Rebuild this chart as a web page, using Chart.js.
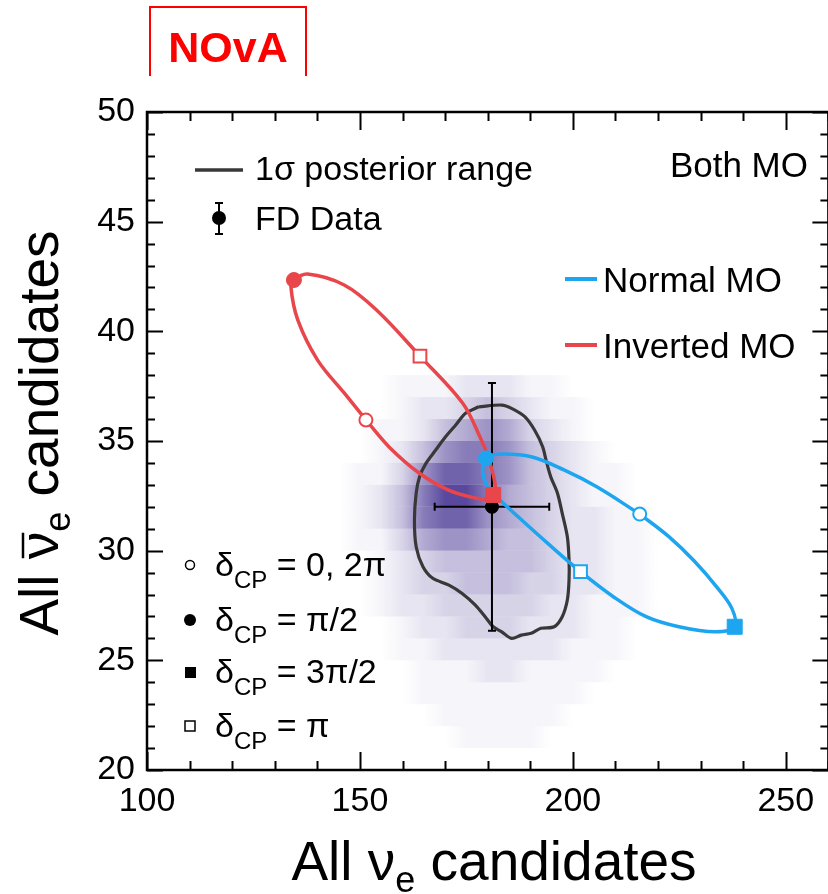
<!DOCTYPE html>
<html>
<head>
<meta charset="utf-8">
<script src="https://cdn.jsdelivr.net/npm/chart.js@4.4.1/dist/chart.umd.min.js"></script>
<style>
  html, body { margin: 0; padding: 0; background: #fff; overflow: hidden; }
  #wrap { width: 828px; height: 894px; overflow: hidden; }
  canvas { display: block; }
</style>
</head>
<body>
<div id="wrap"><canvas id="moChart" width="840" height="894"></canvas></div>
<script>
// axis ticks
const xTicks = [100, 150, 200, 250];
const yTicks = [20, 25, 30, 35, 40, 45, 50];

// FD data point and its errors
const fdPoint = [181, 32];
const fdErr = [13.45, 5.65];

// 1 sigma posterior contour
const contourX = [177.9, 183.3, 185.6, 188.7, 191.0, 192.9, 193.7, 194.8, 196.4, 197.5, 198.7, 199.1, 199.1, 198.7, 197.5, 195.6, 192.5, 190.2, 187.9, 185.6, 183.3, 181.3, 179.4, 177.1, 174.0, 170.9, 167.1, 164.8, 163.2, 162.8, 163.2, 164.0, 165.5, 167.8, 170.1, 172.5, 174.8, 177.9];
const contourY = [36.56, 36.64, 36.49, 36.11, 35.50, 34.74, 34.13, 33.37, 32.61, 31.70, 30.63, 29.57, 28.66, 27.75, 26.99, 26.53, 26.46, 26.23, 26.15, 26.00, 26.30, 26.53, 26.99, 27.52, 28.05, 28.43, 28.74, 29.27, 30.18, 31.40, 32.61, 33.37, 33.98, 34.59, 35.19, 35.73, 36.26, 36.56];

// inverted MO ellipse
const invertedX = [151.4, 146.3, 140.05, 135.4, 133.8, 134.5, 137.7, 146.3, 153.9, 164.1, 174.1, 178.2, 180.1, 181.7, 181.5, 180.1, 177.1, 170.8, 163.9, 156.9, 151.4];
const invertedY = [35.96, 37.19, 38.69, 40.52, 42.02, 42.34, 42.61, 42.11, 40.97, 38.87, 36.73, 35.18, 34.27, 33.08, 32.55, 32.35, 32.40, 32.76, 33.54, 34.72, 35.96];

// normal MO ellipse
const normalX = [215.7, 222.6, 228.5, 233.8, 237.3, 238.0, 233.4, 224.9, 217.2, 209.5, 201.8, 194.1, 187.1, 183.3, 180.6, 179.4, 178.8, 179.6, 182.5, 190.2, 197.9, 205.6, 215.7];
const normalY = [31.67, 30.63, 29.53, 28.34, 27.38, 26.53, 26.30, 26.53, 26.99, 27.90, 29.04, 30.33, 31.55, 32.23, 32.69, 33.14, 33.68, 34.21, 34.40, 34.28, 33.68, 32.91, 31.67];

// dCP markers, order: 0, pi/2, pi, 3pi/2
const invertedMarkX = [151.4, 134.5, 164.1, 181.3];
const invertedMarkY = [35.96, 42.34, 38.87, 32.54];
const normalMarkX = [215.7, 179.6, 201.8, 238.0];
const normalMarkY = [31.67, 34.21, 29.04, 26.53];

// posterior density (background), rows are 1 unit high, levels 0-9
const densityX = [145, 150, 155, 160, 165, 170, 175, 180, 185, 190, 195, 200, 205, 210, 215, 220, 225, 230];
const densityRowY = [37, 36, 35, 34, 33, 32, 31, 30, 29, 28, 27, 26, 25, 24, 23, 22, 21];
const densityLevels = [
  '000111222110000000',
  '000122343211000000',
  '001124565321000000',
  '001246776432100000',
  '011368876432110000',
  '012479975432110000',
  '012478865432211000',
  '011356654432211000',
  '001234444432211000',
  '001233444332211000',
  '001223333322111000',
  '000122333222110000',
  '000112222221110000',
  '000011122111100000',
  '000011111111000000',
  '000001111110000000',
  '000000111100000000'
];

const RED = '#e8464b';
const BLUE = '#1ea5f0';
const GREY = '#383838';
const FONT = '"Liberation Sans", Arial, Helvetica, sans-serif';

function pts(xs, ys) {
  return xs.map((v, i) => ({ x: v, y: ys[i] }));
}

const markStyle = ['circle', 'circle', 'rect', 'rect'];
const markRadius = [6.5, 7.5, 9, 10.6];
const markWidth = [2, 1, 2, 1];

function drawRich(ctx, parts, x, y, align) {
  let w = 0;
  parts.forEach(p => { ctx.font = p[1] + 'px ' + FONT; w += ctx.measureText(p[0]).width; });
  let cx = align === 'center' ? x - w / 2 : x;
  const pos = [];
  parts.forEach(p => {
    ctx.font = p[1] + 'px ' + FONT;
    ctx.fillText(p[0], cx, y + (p[2] || 0));
    const pw = ctx.measureText(p[0]).width;
    pos.push([cx, pw]);
    cx += pw;
  });
  return pos;
}

const heatmapPlugin = {
  id: 'heatmap',
  beforeDatasetsDraw(chart) {
    const { ctx, chartArea: a, scales: { x, y } } = chart;
    ctx.save();
    ctx.beginPath();
    ctx.rect(a.left, a.top, a.right - a.left, a.bottom - a.top);
    ctx.clip();
    const gx0 = x.getPixelForValue(densityX[0]);
    const gx1 = x.getPixelForValue(densityX[densityX.length - 1]);
    densityRowY.forEach((row, i) => {
      const g = ctx.createLinearGradient(gx0, 0, gx1, 0);
      densityLevels[i].split('').forEach((lv, j) => {
        const off = (x.getPixelForValue(densityX[j]) - gx0) / (gx1 - gx0);
        const alpha = 0.85 * Math.pow(Number(lv) / 9, 1.3);
        g.addColorStop(off, 'rgba(60,40,140,' + alpha.toFixed(3) + ')');
      });
      const top = y.getPixelForValue(row + 1);
      const bot = y.getPixelForValue(row);
      ctx.fillStyle = g;
      ctx.fillRect(gx0, top, gx1 - gx0, bot - top);
    });
    ctx.restore();
  },
  beforeDatasetDraw(chart, args) {
    // error bars under the FD point
    if (chart.data.datasets[args.index].label !== 'FD Data') return;
    const { ctx, scales: { x, y } } = chart;
    const px = x.getPixelForValue(fdPoint[0]), py = y.getPixelForValue(fdPoint[1]);
    const x0 = x.getPixelForValue(fdPoint[0] - fdErr[0]), x1 = x.getPixelForValue(fdPoint[0] + fdErr[0]);
    const y0 = y.getPixelForValue(fdPoint[1] + fdErr[1]), y1 = y.getPixelForValue(fdPoint[1] - fdErr[1]);
    ctx.save();
    ctx.strokeStyle = '#000';
    ctx.lineWidth = 2;
    ctx.beginPath();
    ctx.moveTo(x0, py); ctx.lineTo(x1, py);
    ctx.moveTo(px, y0); ctx.lineTo(px, y1);
    ctx.moveTo(x0, py - 4); ctx.lineTo(x0, py + 4);
    ctx.moveTo(x1, py - 4); ctx.lineTo(x1, py + 4);
    ctx.moveTo(px - 4, y0); ctx.lineTo(px + 4, y0);
    ctx.moveTo(px - 4, y1); ctx.lineTo(px + 4, y1);
    ctx.stroke();
    ctx.restore();
  },
  afterDatasetsDraw(chart) {
    const { ctx, chartArea: a, scales: { x, y } } = chart;
    ctx.save();
    ctx.strokeStyle = '#000';
    ctx.lineWidth = 2;
    ctx.beginPath();
    for (let v = 100; v <= 260; v += 10) {
      const px = Math.round(x.getPixelForValue(v)) + 0.5;
      const len = xTicks.includes(v) ? 18 : 9;
      ctx.moveTo(px, a.bottom); ctx.lineTo(px, a.bottom - len);
      ctx.moveTo(px, a.top); ctx.lineTo(px, a.top + len);
    }
    for (let v = 20; v <= 50; v += 1) {
      const py = Math.round(y.getPixelForValue(v)) + 0.5;
      const len = yTicks.includes(v) ? 16 : 8;
      ctx.moveTo(a.left, py); ctx.lineTo(a.left + len, py);
      ctx.moveTo(a.right, py); ctx.lineTo(a.right - len, py);
    }
    ctx.stroke();
    ctx.lineWidth = 2.5;
    ctx.strokeRect(a.left, a.top, a.right - a.left, a.bottom - a.top);
    ctx.restore();
  },
  afterDraw(chart) {
    const { ctx } = chart;
    ctx.save();
    ctx.fillStyle = '#000';
    ctx.textBaseline = 'alphabetic';

    // axis titles
    drawRich(ctx, [['All ν', 55], ['e', 36, 12], [' candidates', 55]], 494, 880, 'center');
    ctx.save();
    ctx.translate(58, 433);
    ctx.rotate(-Math.PI / 2);
    const yt = drawRich(ctx, [['All ', 55], ['ν', 55], ['e', 36, 12], [' candidates', 55]], 0, 0, 'center');
    ctx.lineWidth = 2.5;
    ctx.beginPath();
    ctx.moveTo(yt[1][0] + 1, -35); ctx.lineTo(yt[1][0] + yt[1][1] - 1, -35);
    ctx.stroke();
    ctx.restore();

    // NOvA box
    ctx.strokeStyle = '#ff0000';
    ctx.lineWidth = 2;
    ctx.beginPath();
    ctx.moveTo(150, 76); ctx.lineTo(150, 7); ctx.lineTo(306, 7); ctx.lineTo(306, 76);
    ctx.stroke();
    ctx.fillStyle = '#ff0000';
    ctx.font = 'bold 43px ' + FONT;
    ctx.textAlign = 'center';
    ctx.fillText('NOvA', 228, 62);
    ctx.textAlign = 'left';
    ctx.fillStyle = '#000';

    // top-left legend
    ctx.strokeStyle = GREY;
    ctx.lineWidth = 3.5;
    ctx.beginPath(); ctx.moveTo(195, 170); ctx.lineTo(243, 170); ctx.stroke();
    ctx.font = '34px ' + FONT;
    ctx.fillText('1σ posterior range', 255, 180);
    ctx.strokeStyle = '#000';
    ctx.lineWidth = 2;
    ctx.beginPath();
    ctx.moveTo(219, 203); ctx.lineTo(219, 234);
    ctx.moveTo(215, 203); ctx.lineTo(223, 203);
    ctx.moveTo(215, 234); ctx.lineTo(223, 234);
    ctx.stroke();
    ctx.beginPath(); ctx.arc(219, 218, 7, 0, Math.PI * 2); ctx.fill();
    ctx.fillText('FD Data', 255, 230);

    // top-right legend
    ctx.font = '35px ' + FONT;
    ctx.textAlign = 'right';
    ctx.fillText('Both MO', 808, 177);
    ctx.textAlign = 'left';
    ctx.lineWidth = 4;
    ctx.strokeStyle = BLUE;
    ctx.beginPath(); ctx.moveTo(565, 279); ctx.lineTo(597, 279); ctx.stroke();
    ctx.strokeStyle = RED;
    ctx.beginPath(); ctx.moveTo(565, 345); ctx.lineTo(597, 345); ctx.stroke();
    ctx.fillText('Normal MO', 603, 292);
    ctx.fillText('Inverted MO', 603, 358);

    // dCP marker legend
    const rows = [['0, 2π', 565, 'oc'], ['π/2', 620, 'fc'], ['3π/2', 672, 'fs'], ['π', 726, 'os']];
    ctx.strokeStyle = '#000';
    ctx.lineWidth = 1.5;
    rows.forEach(r => {
      const my = r[1];
      if (r[2] === 'oc') { ctx.beginPath(); ctx.arc(190, my, 4.5, 0, Math.PI * 2); ctx.stroke(); }
      if (r[2] === 'fc') { ctx.beginPath(); ctx.arc(190, my, 6, 0, Math.PI * 2); ctx.fill(); }
      if (r[2] === 'fs') { ctx.fillRect(185, my - 5, 11, 11); }
      if (r[2] === 'os') { ctx.strokeRect(185, my - 5, 10, 10); }
      drawRich(ctx, [['δ', 34], ['CP', 24, 12], [' = ' + r[0], 34]], 215, my + 11, 'left');
    });
    ctx.restore();
  }
};

const ctx = document.getElementById('moChart').getContext('2d');
const myChart = new Chart(ctx, {
  type: 'scatter',
  data: {
    datasets: [
      {
        label: '1σ posterior range',
        data: pts(contourX, contourY),
        showLine: true,
        borderColor: GREY,
        borderWidth: 3.2,
        pointRadius: 0,
        tension: 0.3,
        order: 6
      },
      {
        label: 'FD Data',
        data: [{ x: fdPoint[0], y: fdPoint[1] }],
        pointRadius: 6.5,
        backgroundColor: '#000',
        borderColor: '#000',
        order: 5
      },
      {
        label: 'Inverted MO',
        data: pts(invertedX, invertedY),
        showLine: true,
        borderColor: RED,
        borderWidth: 3.5,
        pointRadius: 0,
        tension: 0.35,
        order: 4
      },
      {
        label: 'Normal MO',
        data: pts(normalX, normalY),
        showLine: true,
        borderColor: BLUE,
        borderWidth: 3.5,
        pointRadius: 0,
        tension: 0.35,
        order: 3
      },
      {
        label: 'Inverted MO dCP',
        data: pts(invertedMarkX, invertedMarkY),
        pointStyle: markStyle,
        pointRadius: markRadius,
        borderWidth: markWidth,
        borderColor: RED,
        backgroundColor: ['#fff', RED, '#fff', RED],
        order: 2
      },
      {
        label: 'Normal MO dCP',
        data: pts(normalMarkX, normalMarkY),
        pointStyle: markStyle,
        pointRadius: markRadius,
        borderWidth: markWidth,
        borderColor: BLUE,
        backgroundColor: ['#fff', BLUE, '#fff', BLUE],
        order: 1
      }
    ]
  },
  options: {
    responsive: false,
    animation: false,
    events: [],
    layout: { padding: { top: 112, right: 2, left: 0, bottom: 0 } },
    plugins: { legend: { display: false }, tooltip: { enabled: false } },
    scales: {
      x: {
        type: 'linear',
        min: 100,
        max: 260,
        grid: { display: false, drawTicks: false },
        border: { display: false },
        afterBuildTicks: s => { s.ticks = xTicks.map(v => ({ value: v })); },
        afterFit: s => { s.height = 124; },
        ticks: { color: '#000', padding: 11, maxRotation: 0, font: { family: FONT, size: 34 } }
      },
      y: {
        type: 'linear',
        min: 20,
        max: 50,
        grid: { display: false, drawTicks: false },
        border: { display: false },
        afterBuildTicks: s => { s.ticks = yTicks.map(v => ({ value: v })); },
        afterFit: s => { s.width = 147; },
        ticks: { color: '#000', padding: 12, font: { family: FONT, size: 34 } }
      }
    }
  },
  plugins: [heatmapPlugin]
});
</script>
</body>
</html>
